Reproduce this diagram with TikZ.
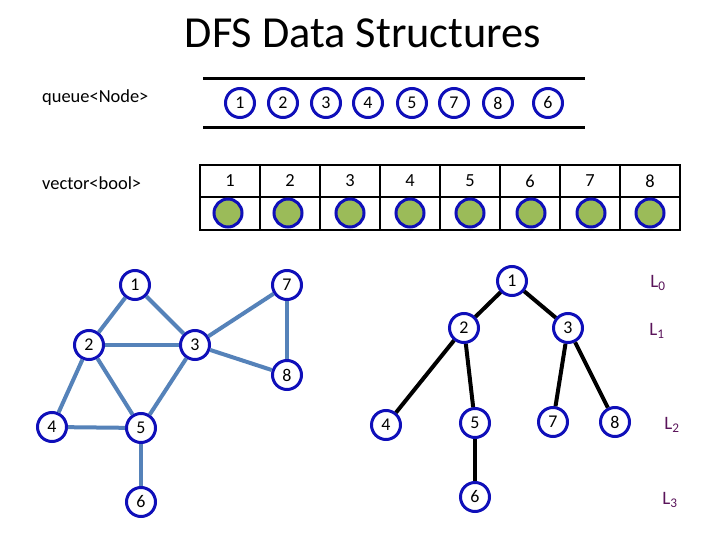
\documentclass[tikz,border=0pt]{standalone}
\usepackage{fontspec}
\setmainfont{Carlito}
\usepackage{xcolor}
\usepackage{tikz}

\definecolor{ringblue}{RGB}{15,15,185}
\definecolor{edgeblue}{RGB}{85,130,185}
\definecolor{visitgreen}{RGB}{155,187,89}
\definecolor{levelpurple}{RGB}{90,20,90}

\tikzset{
	vert/.style={circle, draw=ringblue, line width=3bp, fill=white, minimum size=29bp, inner sep=0pt, font=\fontsize{18}{18}\selectfont},
	flag/.style={circle, draw=ringblue, line width=3bp, fill=visitgreen, minimum size=28bp, inner sep=0pt},
	label/.style={inner sep=0pt, font=\fontsize{18.5}{18.5}\selectfont},
	gedge/.style={edgeblue, line width=4bp},
	tedge/.style={black, line width=4bp},
	lvl/.style={levelpurple, font=\fontsize{19}{19}\selectfont},
}

\begin{document}
\begin{tikzpicture}[x=1bp, y=-1bp]
	\useasboundingbox (0,0) rectangle (720,540);
	\node[anchor=base, font=\fontsize{44.5}{44.5}\selectfont] (title) at (363,48) {DFS Data Structures};
	% queue
	\node[label, anchor=west] (qname) at (42,98) {queue<Node>};
	\draw[line width=3bp] (203,79) -- (585,79);
	\draw[line width=3bp] (203,128) -- (585,128);
	\node[vert] (q1) at (240,103) {1};
	\node[vert] (q2) at (283,103) {2};
	\node[vert] (q3) at (326,103) {3};
	\node[vert] (q4) at (368,103) {4};
	\node[vert] (q5) at (412,103) {5};
	\node[vert] (q7) at (454,103) {7};
	\node[vert] (q8) at (498,103) {8};
	\node[vert] (q6) at (548,103) {6};
	% visited vector
	\node[label, anchor=west] (vname) at (42,183) {vector<bool>};
	\draw[line width=2bp] (200,165) rectangle (680,230);
	\draw[line width=2bp] (200,197) -- (680,197);
	\foreach \x in {260,320,...,620}
		\draw[line width=2bp] (\x,165) -- (\x,230);
	\foreach \i/\x/\fx in {1/230/228, 2/290/288, 3/350/350, 4/410/410, 5/470/470, 6/530/531, 7/590/591, 8/650/650} {
		\node[label] (v\i) at (\x,181) {\i};
		\node[flag] (f\i) at (\fx,213) {};
	}
	% graph
	\node[vert] (g1) at (135,285) {1};
	\node[vert] (g2) at (89,345) {2};
	\node[vert] (g3) at (195,345) {3};
	\node[vert] (g7) at (287,285) {7};
	\node[vert] (g8) at (287,375) {8};
	\node[vert] (g4) at (52,427) {4};
	\node[vert] (g5) at (141,428) {5};
	\node[vert] (g6) at (141,502) {6};
	\draw[gedge] (g1) -- (g2);
	\draw[gedge] (g1) -- (g3);
	\draw[gedge] (g2) -- (g3);
	\draw[gedge] (g2) -- (g4);
	\draw[gedge] (g2) -- (g5);
	\draw[gedge] (g3) -- (g5);
	\draw[gedge] (g3) -- (g7);
	\draw[gedge] (g3) -- (g8);
	\draw[gedge] (g7) -- (g8);
	\draw[gedge] (g4) -- (g5);
	\draw[gedge] (g5) -- (g6);
	% search tree
	\node[vert] (t1) at (512,281) {1};
	\node[vert] (t2) at (464,328) {2};
	\node[vert] (t3) at (568,328) {3};
	\node[vert] (t4) at (386,425) {4};
	\node[vert] (t5) at (475,423) {5};
	\node[vert] (t7) at (553,422) {7};
	\node[vert] (t8) at (615,422) {8};
	\node[vert] (t6) at (475,497) {6};
	\draw[tedge] (t1) -- (t2);
	\draw[tedge] (t1) -- (t3);
	\draw[tedge] (t2) -- (t4);
	\draw[tedge] (t2) -- (t5);
	\draw[tedge] (t5) -- (t6);
	\draw[tedge] (t3) -- (t7);
	\draw[tedge] (t3) -- (t8);
	\node[lvl] (l0) at (658,283) {L\textsubscript{0}};
	\node[lvl] (l1) at (657,331) {L\textsubscript{1}};
	\node[lvl] (l2) at (672,425) {L\textsubscript{2}};
	\node[lvl] (l3) at (670,500) {L\textsubscript{3}};
\end{tikzpicture}
\end{document}
